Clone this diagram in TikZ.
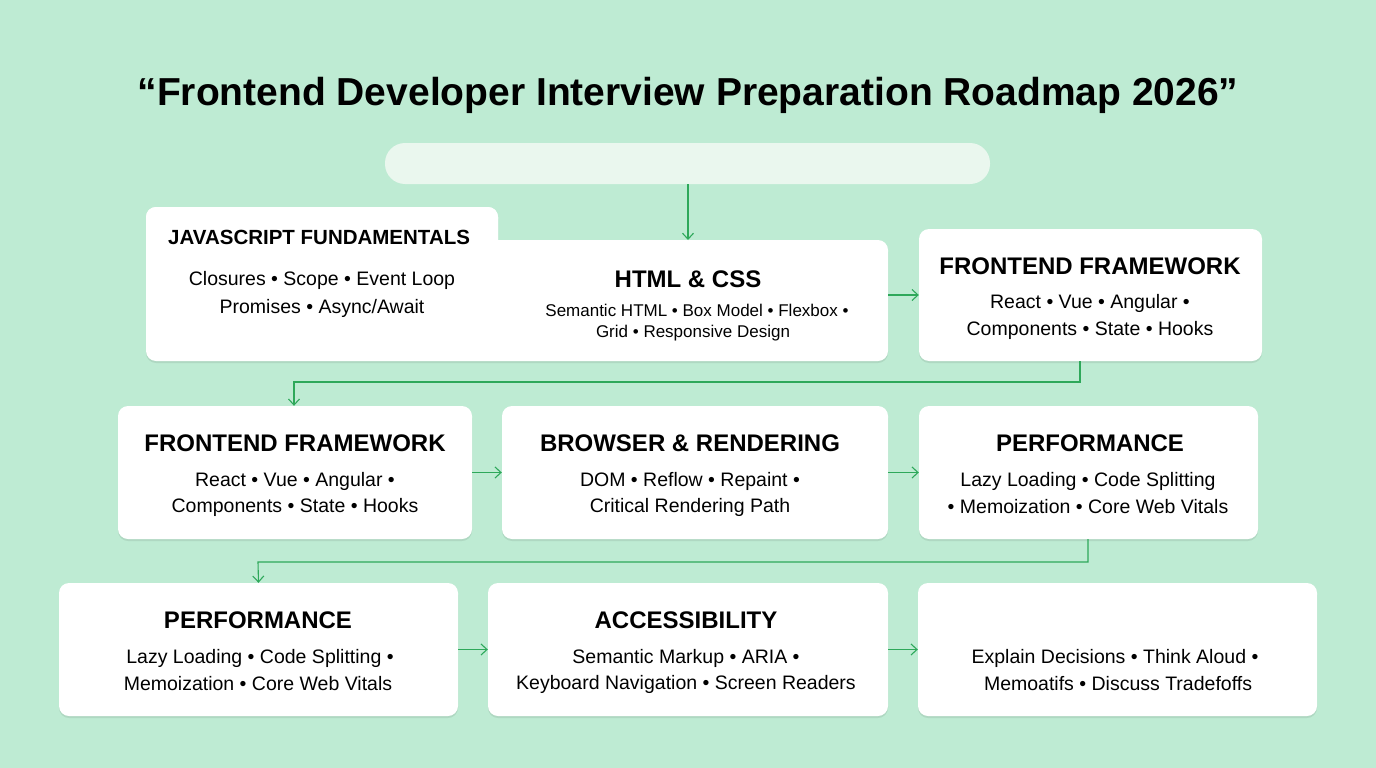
\documentclass[tikz,border=0pt]{standalone}
\usepackage{fontspec}
\setmainfont{Liberation Sans}
\usetikzlibrary{arrows.meta,shadows}
\definecolor{bg}{HTML}{BEEBD3}
\definecolor{ar}{HTML}{2EA85A}
\definecolor{pill}{HTML}{EAF7EE}
\tikzset{x=1pt,y=-1pt,
 card/.style={fill=white,rounded corners=10pt,drop shadow={shadow xshift=0pt,shadow yshift=-2pt,fill=black,opacity=0.08}},
 hd/.style={font=\fontsize{24}{27}\selectfont\bfseries,inner sep=0pt},
 bd/.style={font=\fontsize{19.5}{22}\selectfont,inner sep=0pt},
 sm/.style={font=\fontsize{17}{20}\selectfont,inner sep=0pt},
 arr/.style={draw=ar,line width=1.1pt,-{Straight Barb[length=6pt,width=11pt]}}}
\begin{document}
\begin{tikzpicture}
\fill[bg] (0,0) rectangle (1376,768);
\useasboundingbox (0,0) rectangle (1376,768);
\node[font=\fontsize{39}{44}\selectfont\bfseries] (title) at (688,95) {“Frontend Developer Interview Preparation Roadmap 2026”};
\fill[pill,rounded corners=20pt] (385,143) rectangle (990,184);
\coordinate (pb) at (688,184);
% merged JS + HTML card
\fill[card] (146,207) rectangle (498,300);
\fill[card] (146,240) rectangle (888,361);
\fill[white,rounded corners=10pt] (146,207) rectangle (498,300);
\coordinate (htop) at (688,240);
\coordinate (hright) at (888,295);
\node[hd,anchor=west,font=\fontsize{20.5}{24}\selectfont\bfseries] (js) at (168,237) {JAVASCRIPT FUNDAMENTALS};
\node[bd] at (322,280) {Closures • Scope • Event Loop};
\node[bd] at (322,308) {Promises • Async/Await};
\node[hd] (html) at (688,279) {HTML \& CSS};
\node[sm] at (697,310) {Semantic HTML • Box Model • Flexbox •};
\node[sm] at (693,333) {Grid • Responsive Design};
% FF top
\node[card,minimum width=343pt,minimum height=132pt] (ff1) at (1090.5,295) {};
\node[hd] at (1090,266) {FRONTEND FRAMEWORK};
\node[bd] at (1090,303) {React • Vue • Angular •};
\node[bd] at (1090,330) {Components • State • Hooks};
% row 2
\node[card,minimum width=354pt,minimum height=133pt] (ff2) at (295,472.5) {};
\node[hd] at (295,443) {FRONTEND FRAMEWORK};
\node[bd] at (295,481) {React • Vue • Angular •};
\node[bd] at (295,507) {Components • State • Hooks};
\node[card,minimum width=386pt,minimum height=133pt] (br) at (695,472.5) {};
\node[hd] at (690,443) {BROWSER \& RENDERING};
\node[bd] at (690,481) {DOM • Reflow • Repaint •};
\node[bd] at (690,507) {Critical Rendering Path};
\node[card,minimum width=339pt,minimum height=133pt] (pf1) at (1088.5,472.5) {};
\node[hd] at (1090,443) {PERFORMANCE};
\node[bd] at (1088,481) {Lazy Loading • Code Splitting};
\node[bd] at (1088,507) {• Memoization • Core Web Vitals};
% row 3
\node[card,minimum width=399pt,minimum height=133pt] (pf2) at (258.5,649.5) {};
\node[hd] at (258,620) {PERFORMANCE};
\node[bd] at (260,658) {Lazy Loading • Code Splitting •};
\node[bd] at (258,684) {Memoization • Core Web Vitals};
\node[card,minimum width=400pt,minimum height=133pt] (acc) at (688,649.5) {};
\node[hd] at (686,620) {ACCESSIBILITY};
\node[bd] at (686,658) {Semantic Markup • ARIA •};
\node[bd] at (686,684) {Keyboard Navigation • Screen Readers};
\node[card,minimum width=399pt,minimum height=133pt] (beh) at (1117.5,649.5) {};
\node[bd] at (1115,658) {Explain Decisions • Think Aloud •};
\node[bd] at (1118,684) {Memoatifs • Discuss Tradefoffs};
% arrows
\draw[arr] (pb) -- (htop);
\draw[arr] (hright) -- (ff1.west);
\draw[arr] (ff1.south -| 1080,0) -- (1080,382) -- (294,382) -- (ff2.north -| 294,0);
\draw[arr] (ff2.east) -- (br.west);
\draw[arr] (br.east) -- (pf1.west);
\draw[arr] (pf1.south -| 1088,0) -- (1088,562) -- (258,562) -- (pf2.north);
\draw[arr] (pf2.east) -- (acc.west);
\draw[arr] (acc.east) -- (beh.west);
\end{tikzpicture}
\end{document}
